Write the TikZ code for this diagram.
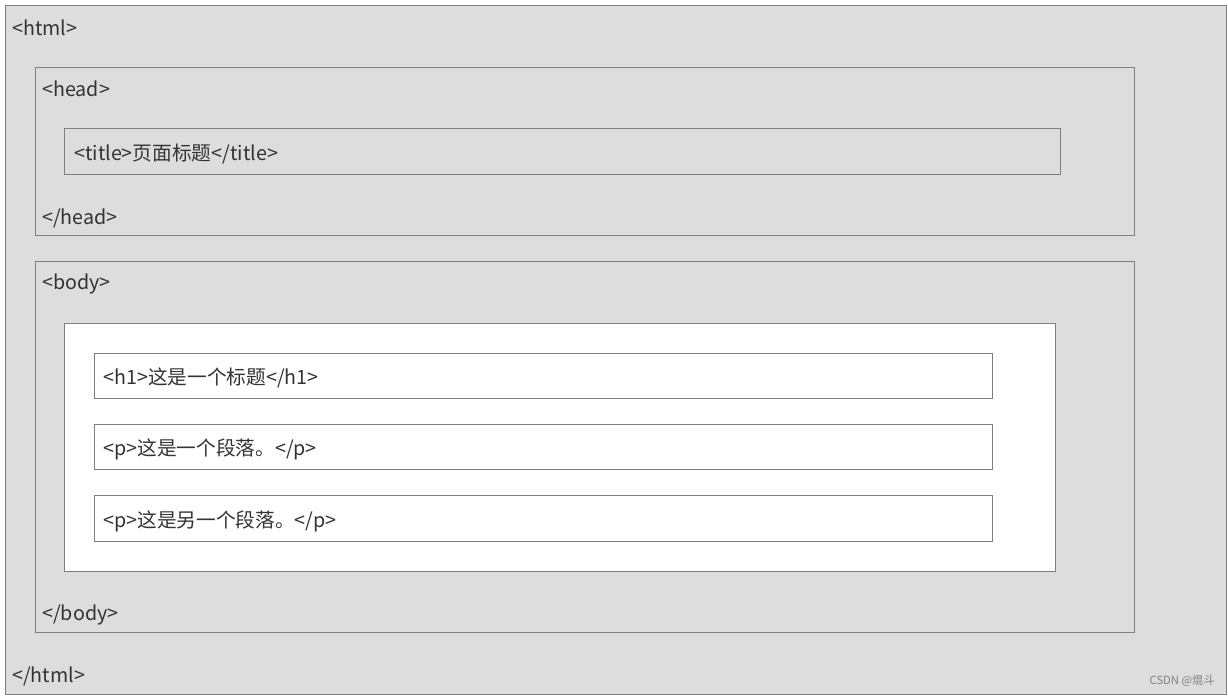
\documentclass[tikz,border=0pt]{standalone}
\usepackage{fontspec}
\setmainfont{Noto Sans CJK SC}
\definecolor{pagegray}{HTML}{DDDDDD}
\definecolor{edgegray}{HTML}{7F7F7F}
\definecolor{textgray}{HTML}{333333}
\tikzset{
  tagbox/.style={draw=edgegray, line width=0.7pt},
  tagtext/.style={anchor=west, inner sep=0pt, text=textgray, font=\fontsize{14}{16}\selectfont},
}
\begin{document}
\begin{tikzpicture}[x=0.025cm, y=-0.025cm]
	\useasboundingbox (0, 0) rectangle (1228, 697);
	\fill[white] (0, 0) rectangle (1228, 697);

	%%the outer html box
	\draw[tagbox, fill=pagegray](5, 5) rectangle (1226, 694);
	\node[tagtext] (htmlopen) at (12, 28) {<html>};
	\node[tagtext] (htmlclose) at (12, 676) {</html>};

	%%head and its title
	\draw[tagbox](35, 67) rectangle (1134, 235);
	\node[tagtext] (headopen) at (42, 89) {<head>};
	\draw[tagbox](64, 128) rectangle (1060, 174);
		\node[tagtext] (title) at (74, 154) {<title>页面标题</title>};
	\node[tagtext] (headclose) at (42, 218) {</head>};

	%%body with the white page
	\draw[tagbox](35, 261) rectangle (1134, 632);
	\node[tagtext] (bodyopen) at (42, 284) {<body>};
	\draw[tagbox, fill=white](64, 323) rectangle (1055, 571);
	\draw[tagbox](94, 353) rectangle (992, 398);
		\node[tagtext] (heading) at (103, 378) {<h1>这是一个标题</h1>};
	\draw[tagbox](94, 424) rectangle (992, 469);
		\node[tagtext] (paraone) at (103, 449) {<p>这是一个段落。</p>};
	\draw[tagbox](94, 495) rectangle (992, 541);
		\node[tagtext] (paratwo) at (103, 521) {<p>这是另一个段落。</p>};
	\node[tagtext] (bodyclose) at (42, 615) {</body>};

	%%watermark
	\node[anchor=east, inner sep=0pt, text=gray, font=\fontsize{8}{9}\selectfont] (mark) at (1215, 681) {CSDN @焜斗};
\end{tikzpicture}
\end{document}
